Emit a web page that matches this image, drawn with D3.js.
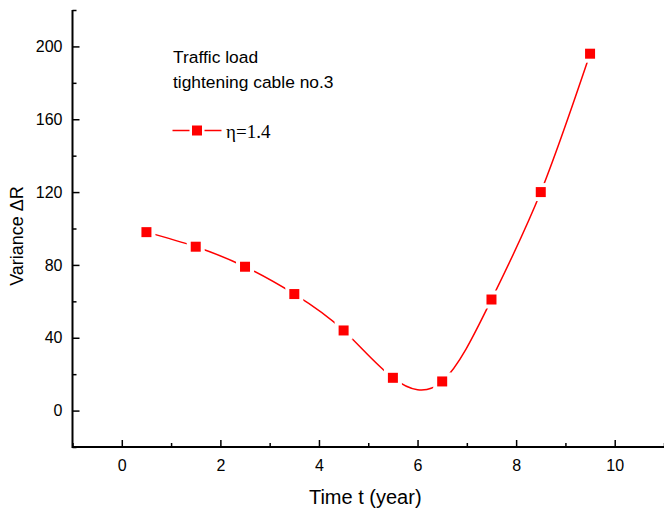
<!DOCTYPE html>
<html>
<head>
<meta charset="utf-8">
<script src="https://cdn.jsdelivr.net/npm/d3@7"></script>
<style>
  html, body { margin: 0; padding: 0; background: #fff; }
  svg { display: block; }
</style>
</head>
<body>
<div id="vis"></div>
<script>
// data
const years = [0.5, 1.5, 2.5, 3.5, 4.5, 5.5, 6.5, 7.5, 8.5, 9.5];
const variance = [98, 90, 79, 64, 44, 18, 16, 61, 120, 196];
const xTicks = [0, 2, 4, 6, 8, 10];
const yTicks = [0, 40, 80, 120, 160, 200];
const legendLines = ["Traffic load", "tightening cable no.3"];
const seriesName = "\u03b7=1.4";

const width = 664, height = 509;
const red = "#ff0000";
const sans = "Arial, 'Liberation Sans', sans-serif";

const svg = d3.select("#vis").append("svg")
    .attr("width", width)
    .attr("height", height);

const x = d3.scaleLinear().domain([-1, 11]).range([72.5, 664]);
const y = d3.scaleLinear().domain([-20, 220]).range([447, 10]);

const points = years.map((t, i) => [t, variance[i]]);

// axes
const xMinor = d3.range(-1, 12, 1).filter(v => v % 2 !== 0);
const yMinor = d3.range(-20, 221, 20).filter(v => v % 40 !== 0);

function styleAxis(g) {
    g.select(".domain").remove();
    g.selectAll("line").attr("stroke", "#000").attr("stroke-width", 1.5);
    g.selectAll("text")
        .attr("font-family", sans)
        .attr("font-size", "16px")
        .attr("fill", "#000");
}

svg.append("g")
    .attr("transform", "translate(0," + y(-20) + ")")
    .call(d3.axisBottom(x).tickValues(xTicks).tickSize(-7).tickPadding(13).tickFormat(d3.format("d")))
    .call(styleAxis);

svg.append("g")
    .attr("transform", "translate(0," + y(-20) + ")")
    .call(d3.axisBottom(x).tickValues(xMinor).tickSize(-4).tickFormat(""))
    .call(styleAxis);

svg.append("g")
    .attr("transform", "translate(" + x(-1) + ",0)")
    .call(d3.axisLeft(y).tickValues(yTicks).tickSize(-7).tickPadding(10).tickFormat(d3.format("d")))
    .call(styleAxis);

svg.append("g")
    .attr("transform", "translate(" + x(-1) + ",0)")
    .call(d3.axisLeft(y).tickValues(yMinor).tickSize(-4).tickFormat(""))
    .call(styleAxis);

// axis lines
svg.append("line")
    .attr("x1", x(-1)).attr("x2", width)
    .attr("y1", y(-20)).attr("y2", y(-20))
    .attr("stroke", "#000").attr("stroke-width", 2);
svg.append("line")
    .attr("x1", x(-1)).attr("x2", x(-1))
    .attr("y1", y(220)).attr("y2", y(-20) + 1)
    .attr("stroke", "#000").attr("stroke-width", 2);

// axis titles
svg.append("text")
    .attr("x", (x(4) + x(6)) / 2 - 3)
    .attr("y", 504)
    .attr("text-anchor", "middle")
    .attr("font-family", sans)
    .attr("font-size", "20px")
    .text("Time t (year)");

svg.append("text")
    .attr("transform", "translate(23,236) rotate(-90)")
    .attr("text-anchor", "middle")
    .attr("font-family", sans)
    .attr("font-size", "18px")
    .text("Variance \u0394R");

// spline
const line = d3.line()
    .x(d => x(d[0]))
    .y(d => y(d[1]))
    .curve(d3.curveNatural);

svg.append("path")
    .datum(points)
    .attr("d", line)
    .attr("fill", "none")
    .attr("stroke", red)
    .attr("stroke-width", 1.5);

// markers with a white gap around them
svg.selectAll(".gap")
    .data(points)
    .enter().append("rect")
    .attr("class", "gap")
    .attr("x", d => x(d[0]) - 9)
    .attr("y", d => y(d[1]) - 9)
    .attr("width", 18)
    .attr("height", 18)
    .attr("fill", "#fff");

svg.selectAll(".marker")
    .data(points)
    .enter().append("rect")
    .attr("class", "marker")
    .attr("x", d => x(d[0]) - 5)
    .attr("y", d => y(d[1]) - 5)
    .attr("width", 10)
    .attr("height", 10)
    .attr("fill", red);

// legend
legendLines.forEach((t, i) => {
    svg.append("text")
        .attr("x", 173)
        .attr("y", 63 + i * 25)
        .attr("font-family", sans)
        .attr("font-size", "17.4px")
        .text(t);
});

const ly = 130.5;
svg.append("line")
    .attr("x1", 172.5).attr("x2", 189.5)
    .attr("y1", ly).attr("y2", ly)
    .attr("stroke", red).attr("stroke-width", 1.5);
svg.append("line")
    .attr("x1", 204.5).attr("x2", 221.5)
    .attr("y1", ly).attr("y2", ly)
    .attr("stroke", red).attr("stroke-width", 1.5);
svg.append("rect")
    .attr("x", 192).attr("y", ly - 5)
    .attr("width", 10).attr("height", 10)
    .attr("fill", red);
svg.append("text")
    .attr("x", 226)
    .attr("y", 137.5)
    .attr("font-family", "'Liberation Serif', 'Times New Roman', serif")
    .attr("font-size", "19px")
    .text(seriesName);
</script>
</body>
</html>
